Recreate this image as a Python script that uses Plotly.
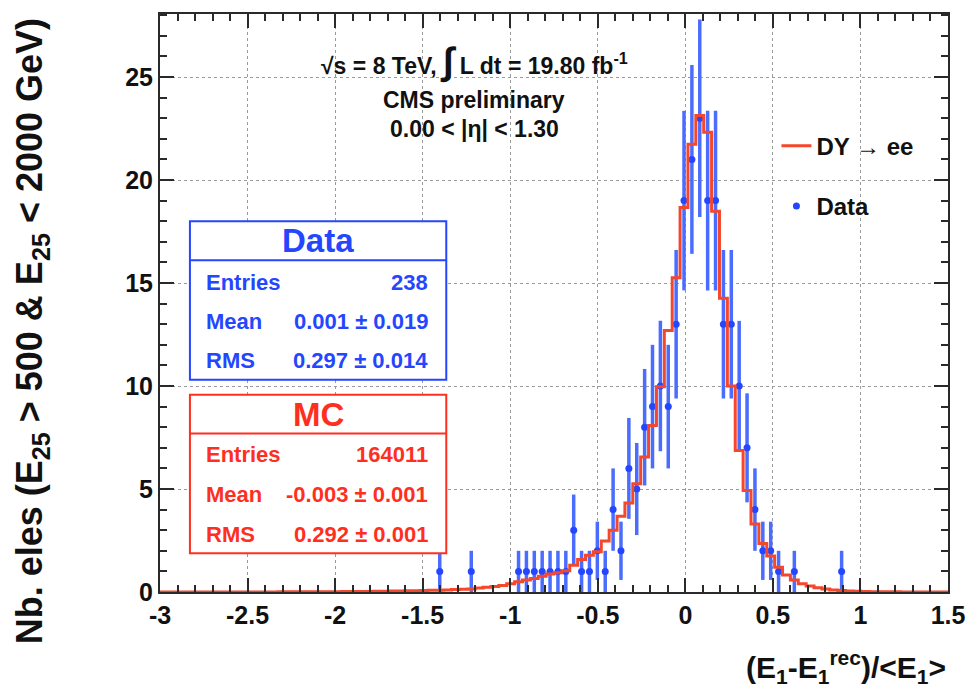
import numpy as np
import plotly.graph_objects as go

# Binning of the response variable (E1 - E1rec) / <E1>
BIN_LO, BIN_HI, N_BINS = -3.0, 1.5, 100

# Observed electron counts per bin
data_counts = [
    0, 0, 0, 0, 0, 0, 0, 0, 0, 0,
    0, 0, 0, 0, 0, 0, 0, 0, 0, 0,
    0, 0, 0, 0, 0, 0, 0, 0, 0, 0,
    0, 0, 0, 0, 0, 1, 0, 0, 0, 1,
    0, 0, 0, 0, 0, 1, 1, 1, 1, 1,
    1, 1, 3, 1, 1, 2, 1, 4, 2, 6,
    5, 8, 9, 10, 9, 13, 19, 21, 23, 19,
    19, 13, 13, 10, 7, 4, 2, 2, 1, 0,
    1, 0, 0, 0, 0, 0, 1, 0, 0, 0,
    0, 0, 0, 0, 0, 0, 0, 0, 0, 0,
]

# DY -> ee simulation, normalised to the data yield
mc_counts = [
    0.0, 0.0, 0.0, 0.0, 0.0, 0.0, 0.002, 0.002, 0.003, 0.003,
    0.004, 0.004, 0.005, 0.006, 0.006, 0.007, 0.008, 0.009, 0.011, 0.012,
    0.014, 0.016, 0.018, 0.021, 0.024, 0.027, 0.03, 0.035, 0.04, 0.045,
    0.05, 0.055, 0.06, 0.07, 0.08, 0.09, 0.1, 0.12, 0.13, 0.15,
    0.19, 0.23, 0.27, 0.32, 0.4, 0.5, 0.58, 0.66, 0.77, 0.87,
    0.93, 1.03, 1.3, 1.58, 1.79, 1.95, 2.48, 3.0, 3.68, 4.32,
    5.26, 6.55, 8.08, 9.97, 12.7, 15.25, 18.67, 21.74, 23.13, 22.32,
    18.48, 14.26, 10.0, 6.87, 4.93, 3.3, 2.36, 1.75, 1.2, 0.82,
    0.58, 0.4, 0.29, 0.21, 0.15, 0.1, 0.07, 0.05, 0.035, 0.025,
    0.018, 0.013, 0.01, 0.007, 0.005, 0.004, 0.003, 0.002, 0.002, 0.001,
]

data_stats = [("Entries", "238"), ("Mean", "0.001 ± 0.019"), ("RMS", "0.297 ± 0.014")]
mc_stats = [("Entries", "164011"), ("Mean", "-0.003 ± 0.001"), ("RMS", "0.292 ± 0.001")]

x_ticks = [-3, -2.5, -2, -1.5, -1, -0.5, 0, 0.5, 1, 1.5]
x_tick_text = ["-3", "-2.5", "-2", "-1.5", "-1", "-0.5", "0", "0.5", "1", "1.5"]
y_ticks = [0, 5, 10, 15, 20, 25]

W, H = 977, 700
ML, MR, MT, MB = 160, 27, 12, 108
FONT = "Liberation Sans, Arial, Helvetica, sans-serif"
BLUE = "#2446ff"
BLUE_BAR = "#4a6cff"
RED = "#ff2f1f"
RED_LINE = "#f4472b"

edges = np.linspace(BIN_LO, BIN_HI, N_BINS + 1)
centers = 0.5 * (edges[:-1] + edges[1:])
dc = np.array(data_counts, dtype=float)
mc = np.array(mc_counts, dtype=float)
nz = dc > 0


def px(xpix):
    return (xpix - ML) / (W - ML - MR)


def py(ypix):
    return (H - MB - ypix) / (H - MT - MB)


fig = go.Figure()

fig.add_trace(go.Scatter(
    x=centers[nz], y=dc[nz], mode="markers", name="Data",
    marker=dict(color=BLUE, size=7),
    error_y=dict(type="data", array=np.sqrt(dc[nz]), color=BLUE_BAR,
                 thickness=3.5, width=0),
    legendrank=2, legendgroup="b",
))

fig.add_trace(go.Scatter(
    x=edges, y=np.append(mc, mc[-1]), mode="lines", name="DY → ee",
    line=dict(color=RED_LINE, width=3, shape="hv"),
    legendrank=1, legendgroup="a",
))

axis_common = dict(
    showline=True, linecolor="#2a2a2a", linewidth=2, mirror="ticks",
    ticks="inside", tickcolor="#2a2a2a", tickwidth=1.5, ticklen=14,
    showgrid=True, gridcolor="#9a9a9a", gridwidth=1, griddash="dot",
    zeroline=False,
    tickfont=dict(family=FONT, size=25, color="#111", weight="bold"),
)

fig.update_xaxes(
    range=[BIN_LO, BIN_HI], tickvals=x_ticks, ticktext=x_tick_text,
    minor=dict(dtick=0.1, ticks="inside", ticklen=7, tickcolor="#2a2a2a",
               tickwidth=1.5, showgrid=False),
    **axis_common,
)
fig.update_yaxes(
    range=[0, 28.06], tickvals=y_ticks,
    minor=dict(dtick=1, ticks="inside", ticklen=7, tickcolor="#2a2a2a",
               tickwidth=1.5, showgrid=False),
    **axis_common,
)

shapes = []
annotations = []


def stat_box(x0, x1, y0, ydiv, y1, color, title, rows, row_y):
    shapes.append(dict(type="rect", xref="paper", yref="paper",
                       x0=px(x0), x1=px(x1), y0=py(y1), y1=py(y0),
                       line=dict(color=color, width=2), fillcolor="white",
                       layer="above"))
    shapes.append(dict(type="line", xref="paper", yref="paper",
                       x0=px(x0), x1=px(x1), y0=py(ydiv), y1=py(ydiv),
                       line=dict(color=color, width=2), layer="above"))
    annotations.append(dict(xref="paper", yref="paper",
                            x=px((x0 + x1) / 2), y=py((y0 + ydiv) / 2),
                            text=title, showarrow=False, xanchor="center",
                            yanchor="middle",
                            font=dict(family=FONT, size=33, color=color,
                                      weight="bold")))
    for (label, value), yy in zip(rows, row_y):
        annotations.append(dict(xref="paper", yref="paper", x=px(x0 + 14),
                                y=py(yy), text=label, showarrow=False,
                                xanchor="left", yanchor="middle",
                                font=dict(family=FONT, size=22, color=color,
                                          weight="bold")))
        annotations.append(dict(xref="paper", yref="paper", x=px(x1 - 16),
                                y=py(yy), text=value, showarrow=False,
                                xanchor="right", yanchor="middle",
                                font=dict(family=FONT, size=22, color=color,
                                          weight="bold")))


stat_box(190, 447, 220, 259, 379, BLUE, "Data", data_stats, [281, 321, 360])
stat_box(190, 447, 394, 433, 553, RED, "MC", mc_stats, [454, 494, 534])

# Run conditions and selection
hdr_font = dict(family=FONT, size=23, color="#111", weight="bold")
annotations.append(dict(
    xref="paper", yref="paper", x=px(475), y=py(60),
    text="√s = 8 TeV, <span style=\"font-size:38px\">∫</span> L dt = 19.80 fb<sup>-1</sup>",
    showarrow=False, xanchor="center", yanchor="middle", font=hdr_font))
annotations.append(dict(xref="paper", yref="paper", x=px(475), y=py(98),
                        text="CMS preliminary", showarrow=False,
                        xanchor="center", yanchor="middle", font=hdr_font))
annotations.append(dict(xref="paper", yref="paper", x=px(475), y=py(127),
                        text="0.00 &lt; |η| &lt; 1.30", showarrow=False,
                        xanchor="center", yanchor="middle", font=hdr_font))

# Axis titles
annotations.append(dict(
    xref="paper", yref="paper", x=px(950), y=py(667),
    text="(E<sub>1</sub>-E<sub>1</sub><sup>rec</sup>)/&lt;E<sub>1</sub>&gt;",
    showarrow=False, xanchor="right", yanchor="middle",
    font=dict(family=FONT, size=30, color="#111", weight="bold")))
annotations.append(dict(
    xref="paper", yref="paper", x=px(32), y=py(14),
    text="Nb. eles (E<sub>25</sub> &gt; 500 &amp; E<sub>25</sub> &lt; 2000 GeV)",
    textangle=-90, showarrow=False, xanchor="center", yanchor="top",
    font=dict(family=FONT, size=36, color="#111", weight="bold")))

fig.update_layout(
    width=W, height=H,
    margin=dict(l=ML, r=MR, t=MT, b=MB),
    paper_bgcolor="white", plot_bgcolor="white",
    showlegend=True,
    legend=dict(x=px(778), y=py(122), xanchor="left", yanchor="top",
                bgcolor="rgba(0,0,0,0)", borderwidth=0,
                font=dict(family=FONT, size=24, color="#111", weight="bold"),
                tracegroupgap=26, itemwidth=30),
    shapes=shapes, annotations=annotations,
)

fig.write_html("out.html")
